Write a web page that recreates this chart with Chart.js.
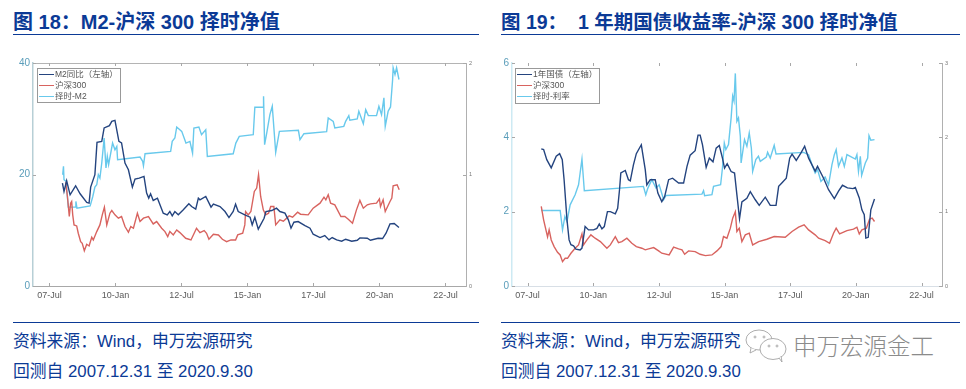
<!DOCTYPE html>
<html lang="zh">
<head>
<meta charset="utf-8">
<title>择时净值</title>
<script src="https://cdn.jsdelivr.net/npm/chart.js@4"></script>
<style>
  html, body { margin: 0; padding: 0; background: #fff; }
  body { width: 966px; height: 389px; position: relative; overflow: hidden; font-family: "Liberation Sans", "Noto Sans CJK SC", sans-serif; color: #0b3a96; }
  .title { position: absolute; top: 9px; font-weight: bold; white-space: pre; line-height: 26px; }
  .rule { position: absolute; height: 1px; background: #0b3a96; }
  .note { position: absolute; font-size: 16.8px; white-space: pre; line-height: 22px; }
  canvas { position: absolute; top: 50px; filter: blur(0.35px); }
  .mark { position: absolute; left: 793px; top: 332px; font-size: 23.5px; color: #8b8b8b; font-weight: 300; line-height: 30px; white-space: pre; }
</style>
</head>
<body>
<div class="title" style="left:13px;font-size:20px">图 18：M2-沪深 300 择时净值</div>
<div class="rule" style="left:13px;width:466px;top:34px"></div>
<div class="title" style="left:501px;font-size:19.5px">图 19：  1 年期国债收益率-沪深 300 择时净值</div>
<div class="rule" style="left:501px;width:459px;top:34px"></div>

<canvas id="chart18" width="490" height="270" style="left:0"></canvas>
<canvas id="chart19" width="476" height="270" style="left:490px"></canvas>

<div class="rule" style="left:13px;width:466px;top:322px"></div>
<div class="rule" style="left:501px;width:459px;top:322px"></div>
<div class="note" style="left:13px;top:331px">资料来源：Wind，申万宏源研究</div>
<div class="note" style="left:13px;top:361px">回测自 2007.12.31 至 2020.9.30</div>
<div class="note" style="left:501px;top:331px">资料来源：Wind，申万宏源研究</div>
<div class="note" style="left:501px;top:361px">回测自 2007.12.31 至 2020.9.30</div>

<svg style="position:absolute;left:744px;top:328px" width="48" height="36" fill="#fff" stroke="#999" stroke-width="0.8">
  <ellipse cx="15" cy="12" rx="13" ry="10"/>
  <path d="M7 20 l-1 5 l6 -3"/>
  <ellipse cx="29" cy="21" rx="13" ry="10.5"/>
  <path d="M35 30 l3 4 l-1 -6"/>
  <circle cx="11" cy="9" r="1"/><circle cx="20" cy="9" r="1"/>
  <circle cx="25" cy="18" r="1"/><circle cx="33" cy="18" r="1"/>
</svg>
<div class="mark">申万宏源金工</div>

<script>
const xTickYears = [2007.5, 2010, 2012.5, 2015, 2017.5, 2020, 2022.5];
const xTickLabels = ['07-Jul', '10-Jan', '12-Jul', '15-Jan', '17-Jul', '20-Jan', '22-Jul'];

const ticksM2 = [0, 20, 40];
const ticksNavLeft = [0, 1, 2];
const ticksYield = [0, 2, 4, 6];
const ticksNavRight = [0, 1, 2, 3];

const labels18 = ['M2同比（左轴）', '沪深300', '择时-M2'];
const labels19 = ['1年国债（左轴）', '沪深300', '择时-利率'];

const m2Years = [2007.99,2008.05,2008.15,2008.28,2008.49,2008.66,2008.91,2009.0,2009.06,2009.22,2009.3,2009.48,2009.57,2009.77,2009.86,2009.98,2010.13,2010.23,2010.36,2010.49,2010.64,2010.74,2010.9,2011.08,2011.18,2011.26,2011.33,2011.43,2011.59,2011.81,2011.96,2012.06,2012.15,2012.25,2012.38,2012.57,2012.78,2012.885,2013.04,2013.14,2013.2,2013.42,2013.62,2013.71,2013.96,2014.15,2014.3,2014.46,2014.55,2014.65,2014.9,2015.1,2015.18,2015.28,2015.41,2015.63,2015.7,2015.92,2016.1,2016.23,2016.42,2016.55,2016.65,2016.76,2016.92,2017.18,2017.37,2017.49,2017.75,2017.93,2018.09,2018.21,2018.38,2018.57,2018.72,2018.95,2019.16,2019.26,2019.54,2019.66,2019.95,2020.12,2020.25,2020.4,2020.56,2020.74];
const m2Values = [18.46,16.96,18.88,16.36,17.98,16.54,14.98,14.86,17.74,19.96,25.77,25.95,28.35,28.77,29.54,29.72,25.95,25.65,22.05,20.85,17.74,19.18,19.36,19.66,16.66,15.76,16.54,15.34,15.76,13.06,12.76,13.36,12.58,13.36,12.76,13.66,14.74,14.26,13.78,15.76,15.46,16.06,14.14,14.68,14.26,13.36,12.28,13.36,14.68,13.36,12.76,12.34,10.97,12.34,10.19,12.16,13.36,13.54,13.96,13.36,13.06,11.86,10.37,11.44,11.56,10.84,10.37,9.29,8.69,9.05,8.27,8.69,8.27,8.03,8.39,8.03,8.21,8.63,8.57,8.21,8.57,8.51,9.47,11.14,11.2,10.49];

const hs18Years = [2008.11,2008.18,2008.25,2008.3,2008.34,2008.38,2008.43,2008.53,2008.59,2008.68,2008.74,2008.82,2008.91,2009.0,2009.1,2009.16,2009.29,2009.41,2009.5,2009.58,2009.67,2009.79,2009.86,2009.98,2010.11,2010.23,2010.36,2010.49,2010.58,2010.68,2010.83,2010.93,2011.06,2011.25,2011.43,2011.56,2011.75,2011.875,2011.98,2012.06,2012.19,2012.32,2012.44,2012.66,2012.86,2012.95,2013.07,2013.2,2013.36,2013.45,2013.54,2013.71,2013.9,2014.05,2014.21,2014.375,2014.55,2014.63,2014.82,2014.9,2014.93,2015.03,2015.13,2015.26,2015.35,2015.42,2015.5,2015.6,2015.69,2015.8,2015.88,2016.0,2016.07,2016.23,2016.36,2016.58,2016.71,2016.9,2017.01,2017.3,2017.49,2017.75,2017.9,2017.97,2018.06,2018.15,2018.31,2018.54,2018.69,2018.82,2018.98,2019.13,2019.26,2019.39,2019.54,2019.66,2019.89,2020.0,2020.04,2020.14,2020.22,2020.4,2020.47,2020.52,2020.67,2020.75];
const hs18Values = [0.929,0.803,0.623,0.743,0.758,0.638,0.548,0.539,0.473,0.398,0.383,0.317,0.374,0.359,0.437,0.413,0.488,0.548,0.638,0.707,0.548,0.653,0.677,0.638,0.608,0.623,0.533,0.482,0.533,0.518,0.653,0.578,0.608,0.623,0.557,0.578,0.518,0.488,0.443,0.488,0.458,0.503,0.479,0.428,0.413,0.458,0.518,0.479,0.497,0.473,0.419,0.464,0.458,0.419,0.398,0.413,0.413,0.458,0.473,0.548,0.668,0.638,0.668,0.848,0.878,0.998,0.803,0.683,0.638,0.653,0.713,0.713,0.548,0.593,0.581,0.629,0.617,0.662,0.644,0.638,0.698,0.743,0.797,0.773,0.818,0.743,0.728,0.623,0.623,0.599,0.563,0.683,0.767,0.698,0.728,0.737,0.743,0.782,0.713,0.773,0.668,0.758,0.788,0.899,0.908,0.863];

const navM2Years = [2008.0,2008.03,2008.05,2008.13,2008.21,2008.47,2008.5,2008.54,2009.04,2009.14,2009.22,2009.29,2009.35,2009.41,2009.48,2009.57,2009.64,2009.69,2009.74,2009.89,2009.98,2010.05,2010.08,2010.93,2011.03,2011.06,2011.12,2012.09,2012.15,2012.25,2012.32,2012.51,2012.67,2012.82,2012.92,2012.97,2013.16,2013.26,2013.42,2013.48,2014.46,2014.56,2014.69,2015.22,2015.28,2015.6,2015.61,2015.65,2015.73,2015.85,2015.94,2016.07,2016.21,2016.93,2016.99,2017.14,2018.0,2018.06,2018.25,2018.31,2018.65,2018.72,2018.84,2018.88,2019.16,2019.22,2019.39,2019.48,2019.58,2019.89,2019.98,2020.08,2020.17,2020.22,2020.33,2020.42,2020.5,2020.52,2020.59,2020.65,2020.74];
const navM2Values = [0.998,1.073,0.953,0.938,0.707,0.707,0.758,0.698,0.719,0.803,0.887,0.908,0.998,0.968,1.103,1.327,1.058,1.163,1.088,1.282,1.222,1.252,1.133,1.156,1.118,1.079,1.186,1.207,1.297,1.327,1.426,1.387,1.282,1.297,1.192,1.417,1.426,1.357,1.402,1.162,1.186,1.282,1.342,1.357,1.603,1.606,1.702,1.267,1.372,1.537,1.612,1.198,1.387,1.396,1.312,1.366,1.384,1.507,1.477,1.417,1.432,1.477,1.528,1.486,1.498,1.567,1.456,1.582,1.528,1.528,1.612,1.537,1.687,1.432,1.567,1.606,1.852,1.957,1.897,1.957,1.852];

const yieldYears = [2008.02,2008.11,2008.23,2008.4,2008.59,2008.72,2008.82,2008.89,2009.0,2009.08,2009.15,2009.25,2009.34,2009.5,2009.57,2009.69,2009.82,2010.01,2010.14,2010.23,2010.33,2010.42,2010.54,2010.65,2010.84,2010.93,2011.0,2011.05,2011.22,2011.34,2011.41,2011.53,2011.64,2011.83,2011.98,2012.04,2012.17,2012.36,2012.46,2012.61,2012.72,2012.87,2013.02,2013.25,2013.44,2013.57,2013.69,2013.88,2013.99,2014.07,2014.16,2014.3,2014.42,2014.56,2014.68,2014.8,2014.92,2015.0,2015.1,2015.25,2015.38,2015.47,2015.57,2015.66,2015.85,2015.98,2016.17,2016.32,2016.55,2016.74,2016.96,2017.06,2017.18,2017.35,2017.48,2017.57,2017.73,2017.91,2018.05,2018.2,2018.45,2018.54,2018.77,2018.96,2019.18,2019.34,2019.49,2019.68,2019.89,2019.98,2020.13,2020.23,2020.32,2020.38,2020.47,2020.57,2020.71];
const yieldValues = [3.69,3.67,3.4,3.18,3.49,3.56,3.4,2.86,1.78,1.24,1.11,1.08,0.99,0.97,1.02,1.6,1.51,1.51,1.55,1.67,1.54,1.6,2.0,2.0,1.94,2.09,2.59,3.04,3.11,2.86,2.83,3.26,3.56,3.8,3.13,2.72,2.86,2.86,2.5,2.27,2.41,2.86,2.9,2.77,2.77,3.22,3.52,3.64,4.06,4.06,3.8,3.19,3.44,3.34,3.71,3.78,3.44,3.17,3.29,3.08,3.04,2.45,1.81,2.26,2.36,2.54,2.32,2.17,2.39,2.17,2.17,2.68,2.77,2.9,3.44,3.55,3.38,3.58,3.76,3.44,3.09,3.22,2.9,2.59,2.35,2.55,2.71,2.64,2.62,2.65,2.37,2.05,1.92,1.29,1.31,2.05,2.34];

const hs19Years = [2008.02,2008.11,2008.26,2008.32,2008.4,2008.51,2008.64,2008.74,2008.83,2008.93,2009.02,2009.15,2009.31,2009.44,2009.57,2009.63,2009.76,2009.91,2010.07,2010.27,2010.52,2010.65,2010.84,2010.96,2011.09,2011.28,2011.47,2011.64,2011.85,2011.98,2012.11,2012.3,2012.49,2012.61,2012.89,2013.06,2013.25,2013.38,2013.48,2013.63,2013.88,2014.07,2014.27,2014.52,2014.71,2014.87,2014.96,2015.09,2015.22,2015.31,2015.41,2015.47,2015.56,2015.66,2015.79,2015.94,2016.07,2016.3,2016.61,2016.89,2017.31,2017.57,2017.82,2018.03,2018.2,2018.45,2018.58,2018.83,2019.0,2019.15,2019.25,2019.38,2019.66,2019.91,2020.04,2020.13,2020.23,2020.4,2020.52,2020.62,2020.71];
const hs19Values = [1.07,0.89,0.66,0.755,0.62,0.53,0.454,0.418,0.328,0.373,0.373,0.44,0.508,0.553,0.701,0.553,0.62,0.688,0.643,0.598,0.508,0.553,0.665,0.584,0.598,0.643,0.575,0.53,0.508,0.486,0.499,0.517,0.472,0.441,0.418,0.522,0.499,0.486,0.427,0.472,0.463,0.427,0.409,0.418,0.472,0.53,0.665,0.643,0.778,0.913,1.0,0.733,0.778,0.598,0.688,0.71,0.553,0.598,0.629,0.665,0.656,0.733,0.791,0.823,0.755,0.688,0.643,0.611,0.575,0.71,0.778,0.701,0.746,0.764,0.791,0.701,0.755,0.778,0.899,0.913,0.868];

const navRateYears = [2008.02,2008.74,2008.83,2008.92,2009.0,2009.12,2009.31,2009.44,2009.5,2009.57,2009.66,2011.91,2012.0,2012.08,2012.23,2012.39,2012.51,2012.68,2012.77,2014.14,2014.2,2014.24,2014.52,2014.58,2014.85,2014.92,2014.99,2015.05,2015.15,2015.25,2015.31,2015.36,2015.41,2015.47,2015.53,2015.6,2015.63,2015.76,2015.85,2015.94,2016.02,2016.07,2016.19,2016.29,2016.36,2016.59,2016.64,2016.74,2016.89,2016.96,2018.01,2018.2,2018.33,2018.45,2018.54,2018.67,2018.83,2018.96,2019.09,2019.18,2019.25,2019.34,2019.47,2019.56,2019.66,2019.98,2020.04,2020.1,2020.17,2020.22,2020.36,2020.45,2020.5,2020.57,2020.71];
const navRateValues = [1.016,1.016,0.755,0.935,0.868,1.092,1.227,1.362,1.52,1.708,1.281,1.34,1.227,1.317,1.43,1.317,1.362,1.16,1.218,1.236,1.281,1.214,1.228,1.34,1.362,1.587,1.924,1.835,1.902,2.262,2.554,2.486,2.86,2.217,2.262,2.014,1.655,1.969,1.88,2.059,1.857,1.542,1.7,1.745,1.677,1.735,1.798,1.722,1.893,1.776,1.798,1.767,1.632,1.52,1.565,1.407,1.466,1.362,1.632,1.767,1.834,1.61,1.722,1.61,1.767,1.708,1.767,1.542,1.745,1.488,1.655,1.722,2.023,1.96,1.969];

const DARK = '#24447f';
const RED = '#d8635f';
const CYAN = '#68c9ec';

function pairs(xs, ys) {
  return xs.map((x, i) => ({ x, y: ys[i] }));
}

// MATLAB style frame: ticks point inward, legend sits inside the plot
const frame = {
  id: 'frame',
  afterDraw(chart, args, opts) {
    const { ctx, chartArea: a, scales } = chart;
    ctx.save();
    ctx.lineWidth = 1;
    ctx.strokeStyle = opts.topColor;
    if (opts.topLine) {
      ctx.beginPath(); ctx.moveTo(a.left, a.top + 0.5); ctx.lineTo(a.right, a.top + 0.5); ctx.stroke();
    }
    ctx.strokeStyle = '#a8a8a8';
    ctx.beginPath();
    xTickYears.forEach(v => {
      const x = Math.round(scales.x.getPixelForValue(v)) + 0.5;
      ctx.moveTo(x, a.bottom); ctx.lineTo(x, a.bottom - 3);
      ctx.moveTo(x, a.top); ctx.lineTo(x, a.top + 3);
    });
    scales.yL.ticks.forEach(t => {
      const y = Math.round(scales.yL.getPixelForValue(t.value)) + 0.5;
      ctx.moveTo(a.left, y); ctx.lineTo(a.left + 3, y);
    });
    scales.yR.ticks.forEach(t => {
      const y = Math.round(scales.yR.getPixelForValue(t.value)) + 0.5;
      ctx.moveTo(a.right, y); ctx.lineTo(a.right - 3, y);
    });
    ctx.stroke();

    // legend box
    const b = opts.box;
    ctx.fillStyle = '#fff';
    ctx.strokeStyle = '#999';
    ctx.fillRect(b.x, b.y, b.w, b.h);
    ctx.strokeRect(b.x + 0.5, b.y + 0.5, b.w, b.h);
    ctx.font = '8.5px "Liberation Sans", "Noto Sans CJK SC", sans-serif';
    ctx.textBaseline = 'middle';
    chart.data.datasets.forEach((d, i) => {
      const y = Math.round(b.y + 6 + i * 11) + 0.5;
      ctx.strokeStyle = d.borderColor;
      ctx.beginPath(); ctx.moveTo(b.x + 2, y); ctx.lineTo(b.x + 17, y); ctx.stroke();
      ctx.fillStyle = '#555';
      ctx.fillText(d.label, b.x + 18, y);
    });
    ctx.restore();
  }
};

function drawChart(id, cfg) {
  new Chart(document.getElementById(id), {
    type: 'line',
    data: {
      datasets: [
        { label: cfg.labels[0], data: cfg.main, yAxisID: 'yL', borderColor: DARK, order: 1 },
        { label: cfg.labels[1], data: cfg.index, yAxisID: 'yR', borderColor: RED, order: 2 },
        { label: cfg.labels[2], data: cfg.nav, yAxisID: 'yR', borderColor: CYAN, order: 3 }
      ]
    },
    plugins: [frame],
    options: {
      responsive: false,
      animation: false,
      devicePixelRatio: 1,
      layout: { padding: { top: 13, right: 0, bottom: 0, left: 0 } },
      elements: {
        point: { radius: 0 },
        line: { borderWidth: 1.4, tension: 0 }
      },
      plugins: {
        legend: { display: false },
        tooltip: { enabled: false },
        frame: { box: cfg.box, topLine: cfg.topLine, topColor: '#b4b4b4' }
      },
      scales: {
        x: {
          type: 'linear',
          min: cfg.xMin,
          max: cfg.xMax,
          afterBuildTicks: s => { s.ticks = xTickYears.map(value => ({ value })); },
          afterFit: s => { s.height = 34; },
          border: { color: cfg.bottomColor },
          grid: { display: false, drawTicks: false },
          ticks: {
            autoSkip: false, maxRotation: 0, padding: 4,
            color: '#5a5a5a',
            font: { size: 9, family: '"Liberation Sans"' },
            callback: v => xTickLabels[xTickYears.indexOf(v)]
          }
        },
        yL: {
          position: 'left',
          min: cfg.leftTicks[0],
          max: cfg.leftTicks[cfg.leftTicks.length - 1],
          afterBuildTicks: s => { s.ticks = cfg.leftTicks.map(value => ({ value })); },
          afterFit: s => { s.width = cfg.leftWidth; },
          border: { color: cfg.leftColor, width: 1.5 },
          grid: { display: false, drawTicks: false },
          ticks: { padding: 3, color: '#5a9dba', font: { size: 10, family: '"Liberation Sans"' } }
        },
        yR: {
          position: 'right',
          min: cfg.rightTicks[0],
          max: cfg.rightTicks[cfg.rightTicks.length - 1],
          afterBuildTicks: s => { s.ticks = cfg.rightTicks.map(value => ({ value })); },
          afterFit: s => { s.width = cfg.rightWidth; },
          border: { color: '#b0b0b0' },
          grid: { display: false, drawTicks: false },
          ticks: { padding: 3, color: '#777', font: { size: 5.5, family: '"Liberation Sans"' } }
        }
      }
    }
  });
}

drawChart('chart18', {
  labels: labels18,
  main: pairs(m2Years, m2Values),
  index: pairs(hs18Years, hs18Values),
  nav: pairs(navM2Years, navM2Values),
  leftTicks: ticksM2,
  rightTicks: ticksNavLeft,
  xMin: 2006.875, xMax: 2023.28,
  leftWidth: 33, rightWidth: 24,
  leftColor: '#b7cfd6', bottomColor: '#a8a8a8',
  topLine: true,
  box: { x: 37, y: 18, w: 83, h: 34 }
});

drawChart('chart19', {
  labels: labels19,
  main: pairs(yieldYears, yieldValues),
  index: pairs(hs19Years, hs19Values),
  nav: pairs(navRateYears, navRateValues),
  leftTicks: ticksYield,
  rightTicks: ticksNavRight,
  xMin: 2006.906, xMax: 2023.28,
  leftWidth: 22, rightWidth: 24,
  leftColor: '#cdeaf3', bottomColor: '#d8dfe6',
  topLine: false,
  box: { x: 25, y: 18, w: 84, h: 35 }
});
</script>
</body>
</html>
